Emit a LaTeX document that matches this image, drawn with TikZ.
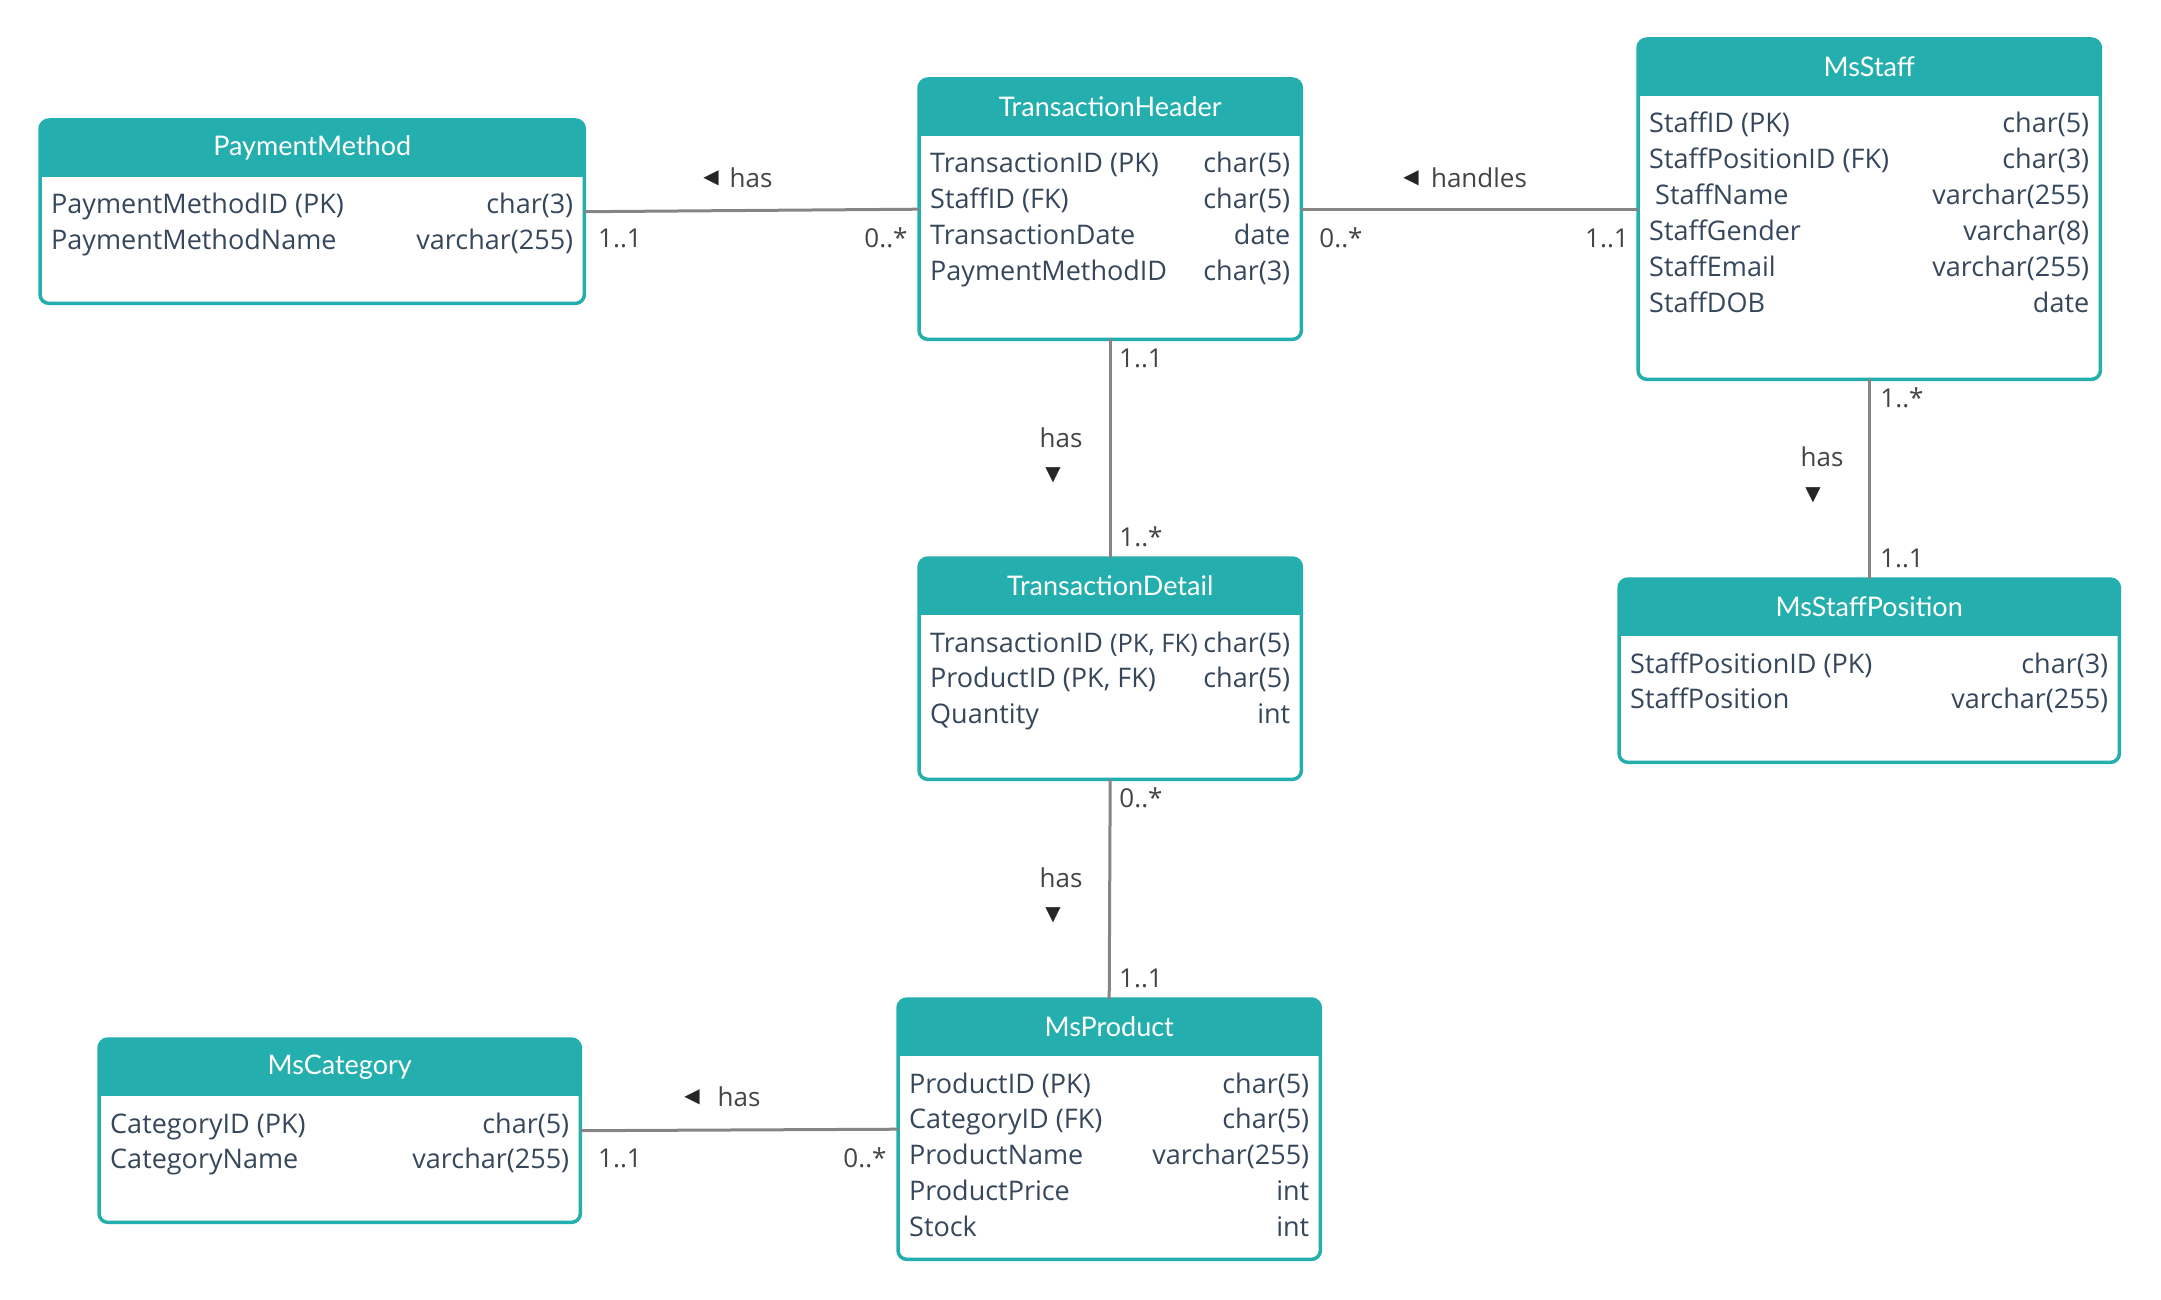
\documentclass[tikz,border=0pt]{standalone}
\usepackage{fontspec}
\setmainfont{Open Sans}
\newfontfamily\latofont{Lato}
\newfontfamily\symfont{DejaVu Sans}
\usetikzlibrary{calc}

\definecolor{erteal}{HTML}{24AFAE}
\definecolor{ertext}{HTML}{36475C}
\definecolor{erline}{HTML}{858585}
\definecolor{erlabel}{HTML}{444444}

\tikzset{
  tbl/.style={fill=white, rounded corners=9pt, inner sep=0pt, anchor=north west, draw=none},
  tblborder/.style={draw=erteal, line width=3.5pt, rounded corners=9pt},
  hdr/.style={text=white, font=\latofont\fontsize{27}{32}\selectfont, inner sep=0pt},
  fieldl/.style={text=ertext, font=\fontsize{27}{32}\selectfont, inner sep=0pt, anchor=base west},
  fieldr/.style={text=ertext, font=\fontsize{27}{32}\selectfont, inner sep=0pt, anchor=base east},
  rel/.style={draw=erline, line width=3pt},
  card/.style={text=erlabel, font=\fontsize{26}{30}\selectfont, inner sep=0pt},
  verb/.style={text=erlabel, font=\fontsize{26}{30}\selectfont, inner sep=0pt},
  tri/.style={text=black!85, font=\symfont\fontsize{20}{22}\selectfont, inner sep=0pt},
}

% a table: name, x, y (top left), width, height, title
\newcommand{\ertable}[6]{%
  \node[tbl, minimum width=#4pt, minimum height=#5pt] (#1) at (#2,#3) {};
  \begin{scope}
    \clip[rounded corners=9pt] (#1.north west) rectangle (#1.south east);
    \fill[erteal] (#1.north west) rectangle ([yshift=-57pt]#1.north east);
  \end{scope}
  \draw[tblborder] (#1.north west) rectangle (#1.south east);
  \node[hdr] (#1-title) at ([yshift=-28pt]#1.north) {#6};
}
% a field row: table, row index, column name, data type
\newcommand{\erfield}[4]{%
  \node[fieldl] (#1-f#2l) at ([xshift=11pt, yshift={-94pt-(#2-1)*35.8pt}]#1.north west) {#3};
  \node[fieldr] (#1-f#2r) at ([xshift=-11pt, yshift={-94pt-(#2-1)*35.8pt}]#1.north east) {#4};
}

\begin{document}
\begin{tikzpicture}[x=1pt, y=-1pt]
\useasboundingbox (0,0) rectangle (2161,1300);

% tables
\ertable{pm}{40}{120}{544}{183}{PaymentMethod}
\erfield{pm}{1}{PaymentMethodID (PK)}{char(3)}
\erfield{pm}{2}{PaymentMethodName}{varchar(255)}

\ertable{th}{919}{79}{382}{260}{TransactionHeader}
\erfield{th}{1}{TransactionID (PK)}{char(5)}
\erfield{th}{2}{StaffID (FK)}{char(5)}
\erfield{th}{3}{TransactionDate}{date}
\erfield{th}{4}{PaymentMethodID}{char(3)}

\ertable{ms}{1638}{39}{462}{340}{MsStaff}
\begin{scope}[every node/.append style={font=\latofont\fontsize{25.3}{30}\selectfont}]
\erfield{ms}{1}{StaffID (PK)}{char(5)}
\erfield{ms}{2}{StaffPositionID (FK)}{char(3)}
\erfield{ms}{3}{\hspace{6pt}StaffName}{varchar(255)}
\erfield{ms}{4}{StaffGender}{varchar(8)}
\erfield{ms}{5}{StaffEmail}{varchar(255)}
\erfield{ms}{6}{StaffDOB}{date}
\end{scope}

\ertable{td}{919}{558}{382}{221}{TransactionDetail}
\erfield{td}{1}{TransactionID {\fontsize{25.5}{32}\selectfont(PK, FK)}}{char(5)}
\erfield{td}{2}{ProductID (PK, FK)}{char(5)}
\erfield{td}{3}{Quantity}{int}

\ertable{msp}{1619}{579}{500}{183}{MsStaffPosition}
\erfield{msp}{1}{StaffPositionID (PK)}{char(3)}
\erfield{msp}{2}{StaffPosition}{varchar(255)}

\ertable{pr}{898}{999}{422}{260}{MsProduct}
\erfield{pr}{1}{ProductID (PK)}{char(5)}
\erfield{pr}{2}{CategoryID (FK)}{char(5)}
\erfield{pr}{3}{ProductName}{varchar(255)}
\erfield{pr}{4}{ProductPrice}{int}
\erfield{pr}{5}{Stock}{int}

\ertable{cat}{99}{1039}{481}{183}{MsCategory}
\erfield{cat}{1}{CategoryID (PK)}{char(5)}
\erfield{cat}{2}{CategoryName}{varchar(255)}

% relationships
\draw[rel] (pm.east) -- (th.west);
\draw[rel] (th.east) -- (ms.west);
\draw[rel] (th.south) -- (td.north);
\draw[rel] (ms.south) -- (msp.north);
\draw[rel] (td.south) -- (pr.north);
\draw[rel] (cat.east) -- (pr.west);

% relationship verbs
\node[tri] (v-pm-a) at (711,178) {◀};
\node[verb] (v-pm) at (751,178) {has};
\node[tri] (v-ms-a) at (1411,178) {◀};
\node[verb] (v-ms) at (1479,178) {handles};
\node[tri] (v-cat-a) at (692,1097) {◀};
\node[verb] (v-cat) at (739,1097) {has};
\node[verb] (v-td) at (1061,438) {has};
\node[tri] (v-td-a) at (1053,475) {▼};
\node[verb] (v-msp) at (1822,457) {has};
\node[tri] (v-msp-a) at (1813,495) {▼};
\node[verb] (v-pr) at (1061,878) {has};
\node[tri] (v-pr-a) at (1053,915) {▼};

% cardinalities
\node[card] (c1) at (620,238) {1..1};
\node[card] (c2) at (886,238) {0..*};
\node[card] (c3) at (1341,238) {0..*};
\node[card] (c4) at (1607,238) {1..1};
\node[card] (c5) at (1141,358) {1..1};
\node[card] (c6) at (1141,537) {1..*};
\node[card] (c7) at (1902,398) {1..*};
\node[card] (c8) at (1902,558) {1..1};
\node[card] (c9) at (1141,798) {0..*};
\node[card] (c10) at (1141,978) {1..1};
\node[card] (c11) at (620,1158) {1..1};
\node[card] (c12) at (865,1158) {0..*};
\end{tikzpicture}
\end{document}
